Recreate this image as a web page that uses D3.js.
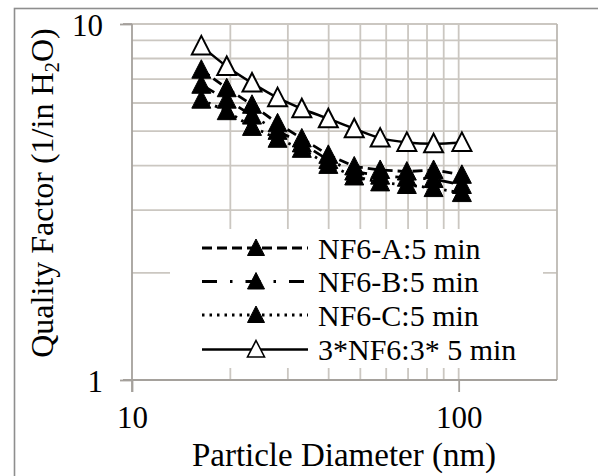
<!DOCTYPE html>
<html>
<head>
<meta charset="utf-8">
<script src="https://cdn.jsdelivr.net/npm/d3@7/dist/d3.min.js"></script>
<style>
  html, body { margin: 0; padding: 0; background: #fff; }
  svg { display: block; }
</style>
</head>
<body>
<svg id="chart" width="598" height="476"></svg>
<script>
// Particle diameter (nm) for each measurement channel
const diameters = [16.3, 19.5, 23.3, 27.9, 33.1, 39.9, 47.9, 57.5, 69.4, 83.8, 102.3];

// Quality factor (1/in H2O) for each sample
const nf6A = [7.44, 6.60, 5.93, 5.26, 4.77, 4.29, 3.98, 3.89, 3.85, 3.89, 3.77];
const nf6B = [6.75, 6.13, 5.53, 5.01, 4.62, 4.15, 3.85, 3.75, 3.70, 3.67, 3.53];
const nf6C = [6.13, 5.69, 5.14, 4.76, 4.46, 4.02, 3.73, 3.59, 3.53, 3.46, 3.35];
const nf6x3 = [8.68, 7.60, 6.83, 6.21, 5.78, 5.42, 5.08, 4.78, 4.65, 4.61, 4.65];

const seriesNames = ["NF6-A:5 min", "NF6-B:5 min", "NF6-C:5 min", "3*NF6:3* 5 min"];

const xTickValues = [10, 100];
const yTickValues = [1, 10];
const xGridValues = [20, 30, 40, 50, 60, 70, 80, 90, 100];
const yGridValues = [2, 3, 4, 5, 6, 7, 8, 9, 10];

const FONT = "'Liberation Serif', 'Times New Roman', 'DejaVu Serif', serif";

const svg = d3.select("#chart").attr("font-family", FONT);

const plot = { left: 132, right: 557, top: 24, bottom: 380 };

const x = d3.scaleLog().domain([10, 200]).range([plot.left, plot.right]);
const y = d3.scaleLog().domain([1, 10]).range([plot.bottom, plot.top]);

const gridColor = "#cbc7c1";
const axisColor = "#a5a19c";

// chart frame
svg.append("rect")
  .attr("x", 14.5).attr("y", 8.5)
  .attr("width", 640).attr("height", 520)
  .attr("fill", "#fff").attr("stroke", "#8e8e8e").attr("stroke-width", 1.6);

// gridlines
svg.append("g").selectAll("line").data(xGridValues).join("line")
  .attr("x1", d => x(d)).attr("x2", d => x(d))
  .attr("y1", plot.top).attr("y2", plot.bottom)
  .attr("stroke", gridColor).attr("stroke-width", 1.8);

svg.append("g").selectAll("line").data(yGridValues).join("line")
  .attr("x1", plot.left).attr("x2", plot.right)
  .attr("y1", d => y(d)).attr("y2", d => y(d))
  .attr("stroke", gridColor).attr("stroke-width", 1.8);

// plot area right edge
svg.append("line")
  .attr("x1", plot.right).attr("x2", plot.right)
  .attr("y1", plot.top).attr("y2", plot.bottom)
  .attr("stroke", "#bdb9b3").attr("stroke-width", 1.8);

// axes
const xAxis = d3.axisBottom(x).tickValues(xTickValues).tickFormat(d3.format("d"))
  .tickSizeInner(12).tickSizeOuter(0).tickPadding(14);
const gx = svg.append("g").attr("transform", `translate(0,${plot.bottom})`).call(xAxis)
  .attr("font-family", FONT).attr("font-size", 31);
gx.select(".domain").remove();
gx.selectAll(".tick line").attr("stroke", axisColor).attr("stroke-width", 1.8);
gx.selectAll(".tick text").attr("fill", "#000").attr("dy", "0.71em");

const yAxis = d3.axisLeft(y).tickValues(yTickValues).tickFormat(d3.format("d"))
  .tickSizeInner(12).tickSizeOuter(0).tickPadding(17);
const gy = svg.append("g").attr("transform", `translate(${plot.left},0)`).call(yAxis)
  .attr("font-family", FONT).attr("font-size", 31);
gy.select(".domain").remove();
gy.selectAll(".tick line").attr("stroke", axisColor).attr("stroke-width", 1.8);
gy.selectAll(".tick text").attr("fill", "#000").attr("dy", "0.38em");

svg.append("line")
  .attr("x1", plot.left - 9).attr("x2", plot.right)
  .attr("y1", plot.bottom).attr("y2", plot.bottom)
  .attr("stroke", axisColor).attr("stroke-width", 1.8);
svg.append("line")
  .attr("x1", plot.left).attr("x2", plot.left)
  .attr("y1", plot.top).attr("y2", plot.bottom + 12)
  .attr("stroke", axisColor).attr("stroke-width", 1.8);
svg.append("line")
  .attr("x1", plot.left - 9).attr("x2", plot.left)
  .attr("y1", plot.top).attr("y2", plot.top)
  .attr("stroke", axisColor).attr("stroke-width", 1.8);

// series
const series = [
  { name: seriesNames[0], values: nf6A, dash: "10,5", width: 2.8, filled: true, curve: d3.curveLinear },
  { name: seriesNames[1], values: nf6B, dash: "15,13,2.5,13", width: 2.8, filled: true, curve: d3.curveLinear },
  { name: seriesNames[2], values: nf6C, dash: "2.5,5", width: 2.8, filled: true, curve: d3.curveLinear },
  { name: seriesNames[3], values: nf6x3, dash: null, width: 2.5, filled: false, curve: d3.curveCatmullRom }
];

const tri = "M0,-10L9.5,8.5L-9.5,8.5Z";

series.forEach(s => {
  const pts = diameters.map((d, i) => [d, s.values[i]]);
  const line = d3.line().x(p => x(p[0])).y(p => y(p[1])).curve(s.curve);
  svg.append("path").datum(pts)
    .attr("d", line)
    .attr("fill", "none").attr("stroke", "#000")
    .attr("stroke-width", s.width)
    .attr("stroke-dasharray", s.dash);
});

series.forEach(s => {
  const pts = diameters.map((d, i) => [d, s.values[i]]);
  svg.append("g").selectAll("path").data(pts).join("path")
    .attr("d", tri)
    .attr("transform", p => `translate(${x(p[0])},${y(p[1])})`)
    .attr("fill", s.filled ? "#000" : "#fff")
    .attr("stroke", "#000").attr("stroke-width", s.filled ? 1 : 2);
});

// legend
const legend = svg.append("g");
legend.append("rect")
  .attr("x", 170).attr("y", 229).attr("width", 373).attr("height", 139)
  .attr("fill", "#fff");
const rowY = [248, 281.5, 315, 349.5];
const legendTri = "M0,-9L8.5,7.5L-8.5,7.5Z";
series.forEach((s, i) => {
  const g = legend.append("g").attr("transform", `translate(0,${rowY[i]})`);
  g.append("line").attr("x1", 202).attr("x2", 308).attr("y1", 0).attr("y2", 0)
    .attr("stroke", "#000").attr("stroke-width", s.width)
    .attr("stroke-dasharray", s.dash);
  g.append("path").attr("d", legendTri).attr("transform", "translate(256,0)")
    .attr("fill", s.filled ? "#000" : "#fff")
    .attr("stroke", "#000").attr("stroke-width", s.filled ? 1 : 1.6);
  g.append("text").attr("x", 318).attr("y", 0).attr("dy", "0.35em")
    .attr("font-size", 30).attr("fill", "#000").text(s.name);
});

// axis titles
svg.append("text")
  .attr("x", 344).attr("y", 466)
  .attr("text-anchor", "middle").attr("font-size", 33).attr("fill", "#000")
  .text("Particle Diameter (nm)");

const yt = svg.append("text")
  .attr("transform", "translate(53,193) rotate(-90)")
  .attr("text-anchor", "middle").attr("font-size", 32).attr("fill", "#000");
yt.append("tspan").text("Quality Factor (1/in H");
yt.append("tspan").attr("font-size", 21).attr("dy", 6).text("2");
yt.append("tspan").attr("dy", -6).text("O)");
</script>
</body>
</html>
